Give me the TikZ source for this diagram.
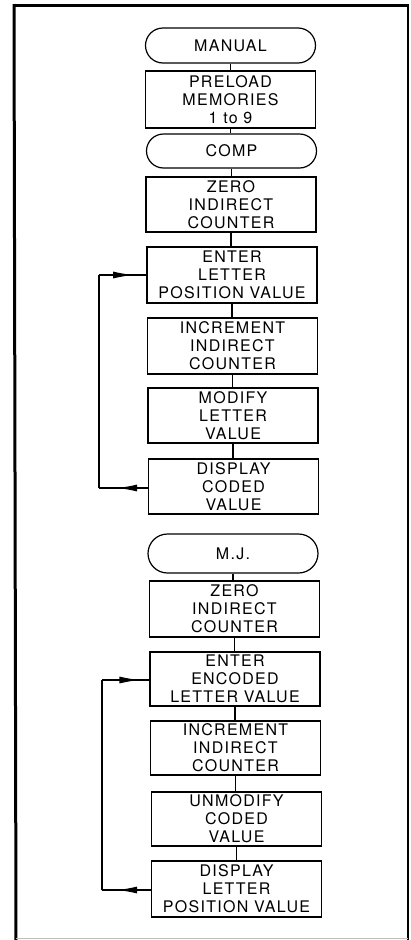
\documentclass[tikz,border=0pt]{standalone}
\usepackage{fontspec}
\newfontfamily\flowfont{TeX Gyre Heros}[LetterSpace=8]
\usetikzlibrary{shapes.misc,arrows.meta,decorations.markings}
\begin{document}
\begin{tikzpicture}[x=1pt,y=-1pt,
  every node/.style={font=\flowfont\fontsize{16}{18}\selectfont},
  procbox/.style={draw,line width=1.2pt,rectangle,minimum width=170pt,inner sep=0pt,align=center},
  termbox/.style={draw,line width=1.2pt,rounded rectangle,minimum width=170pt,inner sep=0pt,align=center},
  conn/.style={line width=1.2pt},
  frameline/.style={line width=3pt},
  loopline/.style={line width=1.2pt},
  arrowat/.style={postaction={decorate},decoration={markings,mark=at position #1 with {\arrow{Latex[length=20pt,width=7pt]}}}}
]
\useasboundingbox (0,0) rectangle (410,940);
% frame
\draw[frameline] (14,4) -- (16,940);
\draw[frameline] (13,5) -- (409,5);
\draw[line width=1.5pt] (408,5) -- (408,940);
\draw[line width=1pt,black!25] (16,938.5) -- (408,938.5);

% first chart
\node[termbox,minimum height=35pt] (manual) at (230.5,45.5) {MANUAL};
\node[procbox,minimum height=57pt] (preload) at (230.5,99.5) {PRELOAD\\MEMORIES\\1 to 9};
\node[termbox,minimum height=34pt] (comp) at (231.5,151) {COMP};
\node[procbox,minimum height=55pt] (zeroa) at (231,204.5) {ZERO\\INDIRECT\\COUNTER};
\node[procbox,minimum height=56pt] (entera) at (232,275) {ENTER\\LETTER\\POSITION VALUE};
\node[procbox,minimum height=56pt] (incra) at (232.5,346) {INCREMENT\\INDIRECT\\COUNTER};
\node[procbox,minimum height=55pt] (modify) at (233,415.5) {MODIFY\\LETTER\\VALUE};
\node[procbox,minimum height=55pt] (dispa) at (233.5,486.5) {DISPLAY\\CODED\\VALUE};

% second chart
\node[termbox,minimum height=39pt] (mj) at (233,553.5) {M.J.};
\node[procbox,minimum height=56pt] (zerob) at (234.5,609) {ZERO\\INDIRECT\\COUNTER};
\node[procbox,minimum height=54pt] (enterb) at (235,679) {ENTER\\ENCODED\\LETTER VALUE};
\node[procbox,minimum height=54pt] (incrb) at (235.5,748) {INCREMENT\\INDIRECT\\COUNTER};
\node[procbox,minimum height=54pt] (unmod) at (236.5,819) {UNMODIFY\\CODED\\VALUE};
\node[procbox,minimum height=56pt] (dispb) at (236.5,889) {DISPLAY\\LETTER\\POSITION VALUE};

% vertical connectors
\foreach \a/\b in {manual/preload,preload/comp,comp/zeroa,zeroa/entera,entera/incra,incra/modify,modify/dispa,
                   mj/zerob,zerob/enterb,enterb/incrb,incrb/unmod,unmod/dispb}
  \draw[conn] (\a.south) -- (\a.south |- \b.north);

% loops
\coordinate (la1) at (99,488);
\coordinate (la2) at (99,275);
\draw[loopline,arrowat=0.63] (dispa.west |- la1) -- (la1);
\draw[loopline] (la1) -- (la2);
\draw[loopline,arrowat=0.72] (la2) -- (entera.west |- la2);

\coordinate (lb1) at (102,890);
\coordinate (lb2) at (102,680);
\draw[loopline,arrowat=0.69] (dispb.west |- lb1) -- (lb1);
\draw[loopline] (lb1) -- (lb2);
\draw[loopline,arrowat=0.79] (lb2) -- (enterb.west |- lb2);
\end{tikzpicture}
\end{document}
